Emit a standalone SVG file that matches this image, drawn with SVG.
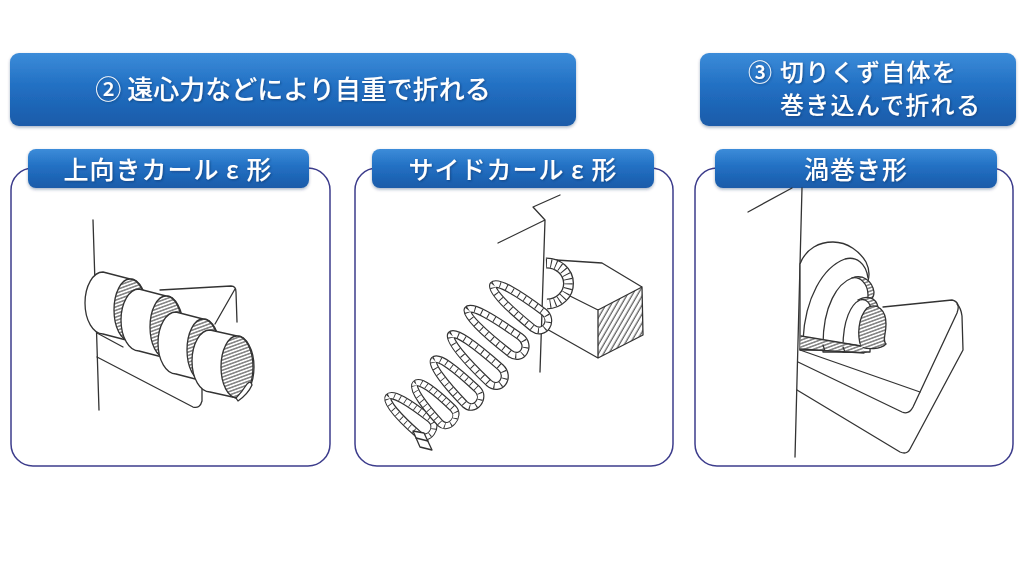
<svg xmlns="http://www.w3.org/2000/svg" xmlns:xlink="http://www.w3.org/1999/xlink" width="1024" height="567" viewBox="0 0 1024 567">
<defs>
  <linearGradient id="gBlue" x1="0" y1="0" x2="0" y2="1">
    <stop offset="0" stop-color="#3c8cd9"/>
    <stop offset="0.45" stop-color="#2270c3"/>
    <stop offset="1" stop-color="#1a5ba9"/>
  </linearGradient>
  <filter id="shBox" x="-5%" y="-20%" width="110%" height="150%">
    <feDropShadow dx="0" dy="1.5" stdDeviation="1.5" flood-color="#0b2d5a" flood-opacity="0.35"/>
  </filter>
  <filter id="shTxt" x="-5%" y="-20%" width="110%" height="150%">
    <feDropShadow dx="1" dy="1" stdDeviation="0.8" flood-color="#0a3566" flood-opacity="0.6"/>
  </filter>
  <pattern id="hatch" patternUnits="userSpaceOnUse" width="8" height="3.2" patternTransform="rotate(-20)">
    <rect width="8" height="3.2" fill="#fff"/>
    <line x1="0" y1="1.6" x2="8" y2="1.6" stroke="#333" stroke-width="0.95"/>
  </pattern>
  <pattern id="hatchD" patternUnits="userSpaceOnUse" width="4.5" height="8" patternTransform="rotate(30)">
    <rect width="4.5" height="8" fill="#fff"/>
    <line x1="2" y1="0" x2="2" y2="8" stroke="#333" stroke-width="1"/>
  </pattern>
  <path id="loop" d="M-34,0 C-34,-6 -12,-9 22,-10 C36,-10 38,9 24,9.5 C-8,9 -34,6 -34,0 Z"/>
</defs>
<style>
  .banner { fill: url(#gBlue); filter: url(#shBox); }
  .btxt { font-family: "Noto Sans CJK JP", "Noto Sans", sans-serif; font-weight: 500; fill: #ffffff; filter: url(#shTxt); }
  .frame { fill: #ffffff; stroke: #3d3d8c; stroke-width: 1.5; }
  .ln { fill: none; stroke: #333; stroke-width: 1.3; stroke-linejoin: round; stroke-linecap: round; }
  .wf { fill: #ffffff; stroke: #333; stroke-width: 1.3; stroke-linejoin: round; }
  .hf { fill: url(#hatch); stroke: #333; stroke-width: 1.3; }
  .rb1 { fill: none; stroke: #333; stroke-width: 8; }
  .rb2 { fill: none; stroke: #fff; stroke-width: 5.6; }
  .rb3 { fill: none; stroke: #333; stroke-width: 5.6; stroke-dasharray: 1 6; }
</style>

<rect width="1024" height="567" fill="#ffffff"/>

<!-- Header banners -->
<g id="banner-2">
  <rect class="banner" x="10" y="53" width="566" height="73" rx="9"/>
  <text class="btxt" x="293" y="99" font-size="26" text-anchor="middle">② 遠心力などにより自重で折れる</text>
</g>
<g id="banner-3">
  <rect class="banner" x="700" y="53" width="316" height="73" rx="9"/>
  <text class="btxt" font-size="24" letter-spacing="1.3"><tspan x="748" y="81">③ 切りくず自体を</tspan><tspan x="780" y="114">巻き込んで折れる</tspan></text>
</g>

<!-- Panel 1 -->
<g id="panel-upward-curl">
  <rect class="frame" x="11" y="168" width="319" height="298" rx="22"/>
  <rect class="banner" x="28" y="149" width="281" height="39" rx="8"/>
  <text class="btxt" x="168" y="179" font-size="25" letter-spacing="1" text-anchor="middle">上向きカール ε 形</text>
  <path class="ln" d="M93,220 L99,410"/>
  <path class="ln" d="M97,333 L123,347"/>
  <path class="ln" d="M97,357 L193,407 Q200,409 202,401 L202,388"/>
  <path class="ln" d="M160,290 L231,286 Q236,286 236,292 L237,322 M235,289 L215,324"/>
  <!-- band 1 -->
  <path class="wf" d="M103,272 L130,279 A17,31 0 0 1 130,341 L103,334 A18,31 0 0 1 103,272 Z"/>
  <ellipse class="hf" cx="130" cy="310" rx="16" ry="31"/>
  <!-- band 2 -->
  <path class="wf" d="M139,289 L166,296 A17,31 0 0 1 166,358 L139,351 A18,31 0 0 1 139,289 Z"/>
  <ellipse class="hf" cx="166" cy="327" rx="16" ry="31"/>
  <!-- band 3 -->
  <path class="wf" d="M176,312 L203,319 A17,31 0 0 1 203,381 L176,374 A18,31 0 0 1 176,312 Z"/>
  <ellipse class="hf" cx="203" cy="350" rx="16" ry="31"/>
  <!-- band 4 -->
  <path class="wf" d="M210,330 L237,336 A17,31 0 0 1 237,398 L210,392 A18,31 0 0 1 210,330 Z"/>
  <ellipse class="hf" cx="237" cy="367" rx="16" ry="31"/>
  <path class="wf" d="M236,398 Q242,392 247,384 Q251,380 252,385 Q248,394 238,401 Z"/>
</g>

<!-- Panel 2 -->
<g id="panel-side-curl">
  <rect class="frame" x="355" y="168" width="318" height="298" rx="22"/>
  <rect class="banner" x="372" y="149" width="282" height="39" rx="8"/>
  <text class="btxt" x="513" y="179" font-size="25" letter-spacing="1" text-anchor="middle">サイドカール ε 形</text>
  <path class="ln" d="M560,195 L533,207 L545,220 L498,243 M545,220 L540,372"/>
  <!-- tool block -->
  <polygon points="550,258 602,263 642,287 598,310 548,290" fill="#fff"/>
  <polygon points="548,290 598,310 598,358 545,328" fill="#fff"/>
  <polygon points="598,310 642,287 643,335 598,358" fill="url(#hatchD)"/>
  <path class="ln" d="M556,260 L602,263 L642,287 L598,310 L562,292 M598,310 L598,358 L545,328 M642,287 L643,335 L598,358"/>
  <!-- half ring at tool -->
  <g>
    <path d="M546,263 A22,20.5 0 0 1 547,304" fill="none" stroke="#333" stroke-width="11"/>
    <path d="M546,263 A22,20.5 0 0 1 547,304" fill="none" stroke="#fff" stroke-width="8.4"/>
    <path d="M546,263 A22,20.5 0 0 1 547,304" fill="none" stroke="#333" stroke-width="8.4" stroke-dasharray="1 3.8"/>
  </g>
  <!-- coil loops (bottom first) -->
  <g transform="translate(410,415) rotate(40) scale(0.84,1)"><use href="#loop" class="rb1"/><use href="#loop" class="rb2"/><use href="#loop" class="rb3"/></g>
  <polygon class="wf" points="413,431 424,433 432,450 420,447"/>
  <path class="ln" d="M416,438 L428,441"/>
  <g transform="translate(434,403) rotate(46) scale(0.8,1)"><use href="#loop" class="rb1"/><use href="#loop" class="rb2"/><use href="#loop" class="rb3"/></g>
  <g transform="translate(456,382) rotate(45) scale(0.92,1)"><use href="#loop" class="rb1"/><use href="#loop" class="rb2"/><use href="#loop" class="rb3"/></g>
  <g transform="translate(477,359) rotate(43) scale(1.04,1)"><use href="#loop" class="rb1"/><use href="#loop" class="rb2"/><use href="#loop" class="rb3"/></g>
  <g transform="translate(496,331) rotate(37) scale(1.04,1)"><use href="#loop" class="rb1"/><use href="#loop" class="rb2"/><use href="#loop" class="rb3"/></g>
  <g transform="translate(520,306) rotate(38)"><use href="#loop" class="rb1"/><use href="#loop" class="rb2"/><use href="#loop" class="rb3"/></g>
</g>

<!-- Panel 3 -->
<g id="panel-spiral">
  <rect class="frame" x="695" y="168" width="318" height="298" rx="22"/>
  <rect class="banner" x="715" y="149" width="282" height="39" rx="8"/>
  <text class="btxt" x="856" y="179" font-size="25" letter-spacing="1" text-anchor="middle">渦巻き形</text>
  <path class="ln" d="M748,212 L792,188 M802,188 L795,457"/>
  <!-- insert plate -->
  <path class="ln" d="M800,350 L920,392"/>
  <path class="ln" d="M798,362 L902,412 Q909,415 913,407 L957,313 Q961,302 952,300 L883,307"/>
  <path class="ln" d="M797,390 L900,452 Q907,455 910,449 L963,350 L962,316 Q961,308 957,304"/>
  <!-- spiral chip -->
  <path class="wf" d="M800,264 C806,248 820,242 833,242 C848,242 860,252 866,262 C871,272 869,282 864,290 L862,350 L800,350 Z"/>
  <path class="ln" d="M868,278 C866,263 856,256 845,259 C823,267 805,298 803,340"/>
  <path class="hf" d="M852,278 C862,274 872,280 874,292 C874,300 868,302 862,300 Z"/>
  <path class="wf" d="M823,345 C823,305 838,283 852,278 C860,276 868,284 868,295 L866,352 L823,352 Z"/>
  <path class="hf" d="M858,300 C866,295 876,297 878,307 C878,314 873,316 868,315 Z"/>
  <path class="wf" d="M843,347 C843,320 851,304 860,300 C866,298 871,303 871,312 L870,352 L843,352 Z"/>
  <path class="hf" d="M867,308 C877,302 886,310 886,324 C886,336 882,340 886,344 C880,350 868,349 861,347 C857,335 858,318 867,308 Z"/>
  <path class="hf" d="M801,336 L862,345 L864,352 L800,349 Z" style="stroke:none"/>
  <path class="ln" d="M823,345 L825,351 M843,347 L845,352 M801,336 L861,346 M800,349 L864,353"/>
</g>
</svg>
